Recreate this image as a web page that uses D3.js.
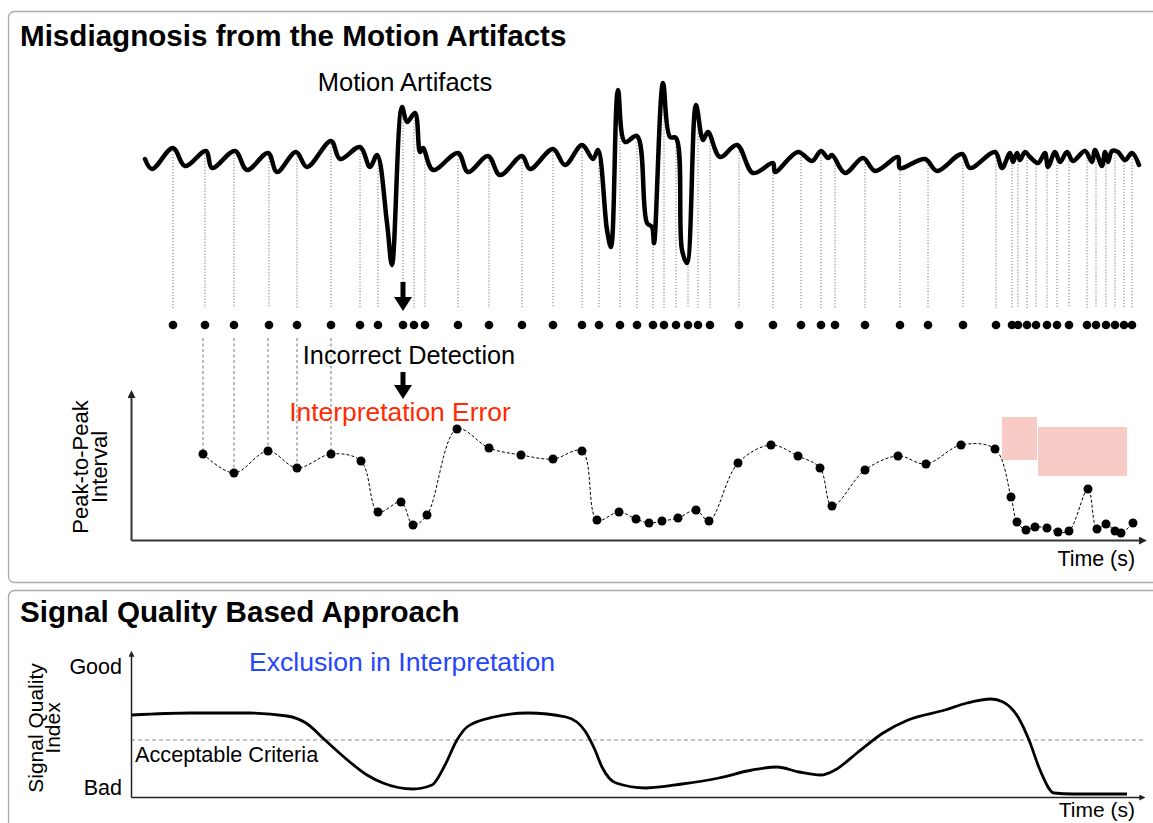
<!DOCTYPE html>
<html><head><meta charset="utf-8">
<script src="https://cdn.jsdelivr.net/npm/d3@7"></script>
<style>
body{margin:0;background:#fff;}
svg{display:block;font-family:"Liberation Sans",Arial,Helvetica,sans-serif;}
</style></head><body>
<svg id="chart" width="1153" height="823"></svg>
<script>
// ---------- DATA ----------
// raw signal (time s, amplitude a.u.)
const waveT = [1.4,2.1,4.2,5.4,7.5,8.1,10.4,11.6,13.7,14.6,16.5,17.6,20.0,20.9,22.9,23.9,24.6,25.6,26.1,27.1,27.6,28.4,28.9,29.2,30.2,32.7,33.7,35.7,36.9,39.1,39.9,42.2,43.4,45.1,46.2,46.7,47.6,48.0,48.7,49.4,50.6,51.6,52.1,52.3,53.2,53.9,54.5,55.1,55.6,56.5,57.2,57.7,58.9,60.6,62.2,64.2,64.4,66.7,68.1,69.0,69.7,70.1,71.4,73.2,74.4,76.7,76.9,79.4,80.6,83.1,83.9,86.4,87.1,87.9,88.2,88.6,88.9,89.4,89.9,90.7,91.4,91.7,92.4,92.9,93.6,94.2,95.4,96.1,96.4,97.1,97.4,97.7,98.1,98.7,99.4,100.1,100.8];
const waveA = [0.1,-0.9,1.2,-0.6,0.9,-0.8,0.9,-1.0,0.7,-1.2,0.8,-0.7,1.9,0.1,1.3,-0.7,0.5,-6.3,-10.5,5.3,3.8,4.7,0.8,1.2,-1.0,0.7,-1.2,0.4,-1.5,0.4,-0.9,1.1,-0.5,1.5,0.1,1.0,-7.0,-8.7,7.0,1.8,2.4,-6.3,-6.7,-8.3,7.7,2.3,2.2,-9.0,-10.3,5.5,2.0,2.8,0.3,1.5,-1.3,-0.3,-1.2,0.8,-0.1,0.9,0.2,0.5,-1.3,0.2,-1.1,0.3,-0.8,0.1,-1.1,0.6,-0.8,0.8,-0.8,0.7,-0.2,0.7,0.0,0.8,0.3,-0.3,0.7,-0.7,0.8,-0.2,0.8,-0.1,0.9,-0.2,1.0,-0.6,0.8,-0.2,0.9,0.8,0.0,0.7,-0.5];
// detected peaks (time s)
const peakTimes = [4.2,7.4,10.3,13.8,16.6,20.0,22.9,24.7,27.2,28.3,29.4,32.7,35.8,39.1,42.2,45.1,46.8,48.9,50.6,52.2,53.3,54.5,55.7,56.7,57.9,60.8,64.2,67.0,69.0,70.4,73.4,76.9,79.7,83.2,86.5,88.1,88.7,89.6,90.5,91.6,92.6,93.8,95.6,96.5,97.5,98.4,99.3,100.1];
// peak-to-peak intervals
const ppiTimes = [7.2,10.3,13.7,16.6,20.0,23.0,24.7,27.0,28.2,29.6,32.6,35.8,39.0,42.2,45.1,46.6,48.8,50.5,51.8,53.1,54.7,56.5,57.8,60.7,64.0,66.7,68.9,70.1,73.4,76.7,79.5,83.0,86.4,88.0,88.6,89.5,90.4,91.6,92.7,93.8,95.7,96.6,97.5,98.4,99.0,100.2];
const ppiValues = [0.86,0.67,0.89,0.72,0.86,0.79,0.28,0.38,0.15,0.25,1.11,0.92,0.85,0.81,0.89,0.20,0.28,0.21,0.17,0.19,0.22,0.30,0.19,0.77,0.95,0.84,0.72,0.34,0.70,0.84,0.76,0.95,0.91,0.43,0.18,0.10,0.13,0.12,0.08,0.09,0.51,0.11,0.16,0.09,0.07,0.17];
const linkedCount = 5;
const errorBoxT0 = [87.1, 90.7];
const errorBoxT1 = [90.6, 99.6];
const errorBoxV0 = [0.80, 0.64];
const errorBoxV1 = [1.23, 1.13];
const artifactTime = 27.2;
// signal quality index
const sqiTimes = [0.1,6.0,11.8,15.6,17.5,19.4,21.3,23.6,25.2,28.2,30.1,31.3,32.6,33.6,36.3,39.7,43.5,45.4,46.4,47.1,48.5,51.5,55.1,58.8,62.1,64.6,66.8,69.0,70.4,72.6,75.2,77.7,81.4,83.6,86.0,87.2,88.7,89.8,90.9,92.3,94.2,99.6];
const sqiValues = [0.82,0.84,0.84,0.81,0.74,0.57,0.40,0.22,0.14,0.08,0.12,0.30,0.57,0.70,0.80,0.84,0.80,0.66,0.47,0.30,0.14,0.09,0.13,0.19,0.27,0.30,0.25,0.22,0.27,0.44,0.64,0.77,0.87,0.94,0.98,0.95,0.80,0.57,0.27,0.04,0.03,0.03];
const sqiThreshold = 0.57;
const sqiTickValues = [0.09, 1.30];
const sqiTickLabels = ["Bad", "Good"];

// ---------- LAYOUT ----------
const svg = d3.select("#chart");
const FONT = '"Liberation Sans",Arial,sans-serif';
const x = d3.scaleLinear().domain([0, 100.9]).range([131, 1140]);
const yWave = d3.scaleLinear().domain([-10, 10]).range([260, 60]);
const yPPI = d3.scaleLinear().domain([0, 1.44]).range([540, 396]);
const ySQI = d3.scaleLinear().domain([0, 1.42]).range([797, 655]);
const dotRowY = 325;

// panels
svg.append("rect").attr("x",8.5).attr("y",11.5).attr("width",1170).attr("height",571)
  .attr("rx",6).attr("fill","none").attr("stroke","#aaa").attr("stroke-width",1.3);
svg.append("rect").attr("x",8.5).attr("y",590.5).attr("width",1170).attr("height",260)
  .attr("rx",6).attr("fill","none").attr("stroke","#aaa").attr("stroke-width",1.3);

svg.append("text").attr("x",20).attr("y",46).attr("font-size",29.6).attr("font-weight","bold")
  .text("Misdiagnosis from the Motion Artifacts");
svg.append("text").attr("x",20).attr("y",622).attr("font-size",29.6).attr("font-weight","bold")
  .text("Signal Quality Based Approach");

// markers
const defs = svg.append("defs");
defs.append("marker").attr("id","arr").attr("viewBox","0 0 10 10").attr("refX",2).attr("refY",5)
  .attr("markerWidth",4).attr("markerHeight",4).attr("orient","auto-start-reverse")
  .append("path").attr("d","M0,0L10,5L0,10Z").attr("fill","#222");

// interpolate wave
function waveAt(t){
  for(let i=1;i<waveT.length;i++){
    if(t<=waveT[i]){const f=(t-waveT[i-1])/(waveT[i]-waveT[i-1]);return waveA[i-1]+f*(waveA[i]-waveA[i-1]);}
  }
  return waveA[waveA.length-1];
}

// dotted lines from peaks
svg.append("g").selectAll("line").data(peakTimes).join("line")
  .attr("x1",d=>x(d)).attr("x2",d=>x(d))
  .attr("y1",d=>yWave(waveAt(d))+3).attr("y2",308)
  .attr("stroke","#777").attr("stroke-width",1).attr("stroke-dasharray","1.2,1.8");

// waveform
const wave = waveT.map((t,i)=>[t,waveA[i]]);
svg.append("path").datum(wave)
  .attr("d", d3.line().x(d=>x(d[0])).y(d=>yWave(d[1])).curve(d3.curveCatmullRom.alpha(0.5)))
  .attr("fill","none").attr("stroke","#000").attr("stroke-width",4.5).attr("stroke-linejoin","round").attr("stroke-linecap","round");

// detection dots
svg.append("g").selectAll("circle").data(peakTimes).join("circle")
  .attr("cx",d=>x(d)).attr("cy",dotRowY).attr("r",4.3).attr("fill","#000");

// arrows
function downArrow(cx, y0, y1){
  const g = svg.append("g");
  g.append("rect").attr("x",cx-2.5).attr("y",y0).attr("width",5).attr("height",y1-y0-12).attr("fill","#000");
  g.append("path").attr("d",`M${cx-9},${y1-14}L${cx+9},${y1-14}L${cx},${y1}Z`).attr("fill","#000");
}
downArrow(x(artifactTime), 282, 311);
downArrow(x(artifactTime), 372, 399);

// connector lines from dots to PPI
const ppi = ppiTimes.map((t,i)=>[t,ppiValues[i]]);
svg.append("g").selectAll("line").data(ppi.slice(0,linkedCount)).join("line")
  .attr("x1",d=>x(d[0])).attr("x2",d=>x(d[0])).attr("y1",338).attr("y2",d=>yPPI(d[1]))
  .attr("stroke","#777").attr("stroke-width",1).attr("stroke-dasharray","3,2.5");

// texts top
svg.append("text").attr("x",405).attr("y",91).attr("text-anchor","middle").attr("font-size",25.5).text("Motion Artifacts");
svg.append("text").attr("x",409).attr("y",364).attr("text-anchor","middle").attr("font-size",25.3).text("Incorrect Detection");
svg.append("text").attr("x",400).attr("y",421).attr("text-anchor","middle").attr("font-size",26.4).attr("fill","#ff2a00").text("Interpretation Error");

// error boxes
svg.append("g").selectAll("rect").data(errorBoxT0).join("rect")
  .attr("x",(d,i)=>x(d)).attr("width",(d,i)=>x(errorBoxT1[i])-x(d))
  .attr("y",(d,i)=>yPPI(errorBoxV1[i])).attr("height",(d,i)=>yPPI(errorBoxV0[i])-yPPI(errorBoxV1[i]))
  .attr("fill","#f8cbc7");

// PPI axes
const axPPIx = svg.append("g").attr("transform",`translate(0,${yPPI(0)})`)
  .call(d3.axisBottom(x).tickValues([]).tickSizeOuter(0));
axPPIx.select(".domain").attr("stroke","#333").attr("stroke-width",2).attr("marker-end","url(#arr)");
const axPPIy = svg.append("g").attr("transform",`translate(${x(0)},0)`)
  .call(d3.axisLeft(yPPI).tickValues([]).tickSizeOuter(0));
axPPIy.select(".domain").attr("stroke","#333").attr("stroke-width",2).attr("marker-end","url(#arr)");

// PPI line & points
svg.append("path").datum(ppi)
  .attr("d", d3.line().x(d=>x(d[0])).y(d=>yPPI(d[1])).curve(d3.curveCatmullRom.alpha(0.5)))
  .attr("fill","none").attr("stroke","#000").attr("stroke-width",1).attr("stroke-dasharray","3,2");
svg.append("g").selectAll("circle").data(ppi).join("circle")
  .attr("cx",d=>x(d[0])).attr("cy",d=>yPPI(d[1])).attr("r",4.5).attr("fill","#000");

svg.append("text").attr("transform","translate(88,467) rotate(-90)").attr("text-anchor","middle").attr("font-size",22).text("Peak-to-Peak");
svg.append("text").attr("transform","translate(107,467) rotate(-90)").attr("text-anchor","middle").attr("font-size",22).text("Interval");
svg.append("text").attr("x",1135).attr("y",566).attr("text-anchor","end").attr("font-size",21.4).text("Time (s)");

// SQI
svg.append("line").attr("x1",x(0)).attr("x2",1143).attr("y1",ySQI(sqiThreshold)).attr("y2",ySQI(sqiThreshold))
  .attr("stroke","#888").attr("stroke-width",1).attr("stroke-dasharray","4,3");
const axSx = svg.append("g").attr("transform",`translate(0,${ySQI(0)})`)
  .call(d3.axisBottom(x).tickValues([]).tickSizeOuter(0));
axSx.select(".domain").attr("stroke","#222").attr("stroke-width",1.5).attr("marker-end","url(#arr)");
const axSy = svg.append("g").attr("transform",`translate(${x(0)},0)`)
  .call(d3.axisLeft(ySQI).tickValues(sqiTickValues).tickFormat((d,i)=>sqiTickLabels[i]).tickSize(0).tickPadding(9).tickSizeOuter(0));
axSy.select(".domain").attr("stroke","#222").attr("stroke-width",1.5).attr("marker-end","url(#arr)");
axSy.selectAll("text").attr("font-size",21.5).attr("font-family",FONT).attr("fill","#000");

const sqi = sqiTimes.map((t,i)=>[t,sqiValues[i]]);
svg.append("path").datum(sqi)
  .attr("d", d3.line().x(d=>x(d[0])).y(d=>ySQI(d[1])).curve(d3.curveMonotoneX))
  .attr("fill","none").attr("stroke","#000").attr("stroke-width",2.8);

svg.append("text").attr("x",135).attr("y",762).attr("font-size",21.7).text("Acceptable Criteria");
svg.append("text").attr("x",402).attr("y",671).attr("text-anchor","middle").attr("font-size",26.6).attr("fill","#2446ff").text("Exclusion in Interpretation");
svg.append("text").attr("transform","translate(43,728) rotate(-90)").attr("text-anchor","middle").attr("font-size",21).text("Signal Quality");
svg.append("text").attr("transform","translate(60,728) rotate(-90)").attr("text-anchor","middle").attr("font-size",21).text("Index");
svg.append("text").attr("x",1135).attr("y",817).attr("text-anchor","end").attr("font-size",21).text("Time (s)");
</script>
</body></html>
